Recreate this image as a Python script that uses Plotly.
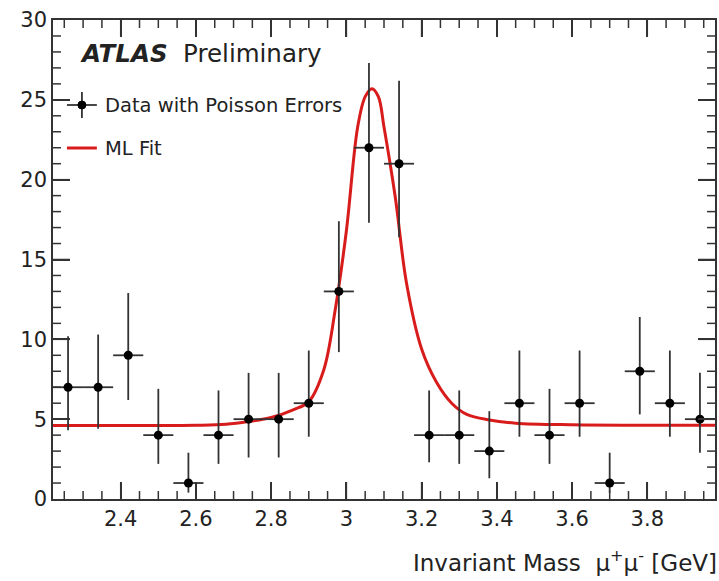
import plotly.graph_objects as go

# ---- data ----
mass = [2.26, 2.34, 2.42, 2.50, 2.58, 2.66, 2.74, 2.82, 2.90, 2.98, 3.06,
        3.14, 3.22, 3.30, 3.38, 3.46, 3.54, 3.62, 3.70, 3.78, 3.86, 3.94]
counts = [7, 7, 9, 4, 1, 4, 5, 5, 6, 13, 22, 21, 4, 4, 3, 6, 4, 6, 1, 8, 6, 5]
err_up = [3.2, 3.3, 3.9, 2.9, 1.9, 2.8, 2.9, 2.9, 3.3, 4.4, 5.3,
          5.2, 2.8, 2.8, 2.5, 3.3, 2.9, 3.3, 1.9, 3.4, 3.3, 2.9]
err_lo = [2.7, 2.6, 2.8, 1.8, 0.6, 1.8, 2.4, 2.4, 2.1, 3.8, 4.7,
          4.6, 1.7, 1.8, 1.7, 2.1, 1.8, 2.1, 0.6, 2.7, 2.1, 2.1]
bin_half = [0.04] * len(mass)

fit_x = [2.22, 2.40, 2.60, 2.68, 2.74, 2.80, 2.86, 2.90, 2.94, 2.97, 3.00,
         3.03, 3.05, 3.068, 3.085, 3.10, 3.13, 3.16, 3.20, 3.24, 3.28,
         3.32, 3.38, 3.45, 3.60, 3.80, 3.98]
fit_y = [4.6, 4.6, 4.62, 4.68, 4.85, 5.1, 5.6, 6.1, 8.1, 11.8, 16.8,
         23.3, 25.2, 25.7, 25.2, 23.3, 18.9, 13.5, 9.4, 7.3, 6.0,
         5.3, 4.95, 4.75, 4.65, 4.62, 4.62]

x_range = [2.22, 3.98]
y_range = [0, 30]
x_major_ticks = [2.4, 2.6, 2.8, 3.0, 3.2, 3.4, 3.6, 3.8]
x_minor_ticks = [2.25, 2.30, 2.35, 2.45, 2.50, 2.55, 2.65, 2.70, 2.75, 2.85,
                 2.90, 2.95, 3.05, 3.10, 3.15, 3.25, 3.30, 3.35, 3.45, 3.50,
                 3.55, 3.65, 3.70, 3.75, 3.85, 3.90, 3.95]
y_major_ticks = [5, 10, 15, 20, 25]
y_minor_ticks = [1, 2, 3, 4, 6, 7, 8, 9, 11, 12, 13, 14, 16, 17, 18, 19,
                 21, 22, 23, 24, 26, 27, 28, 29]

FONT = "DejaVu Sans"
RED = "#d81c1c"
INK = "#222222"
AX = "#333333"

PLOT_W, PLOT_H = 664, 479   # plot area in px (719x581 minus margins)
MAJ_LEN, MIN_LEN = 17, 8

fig = go.Figure()

fig.add_trace(go.Scatter(
    x=fit_x, y=fit_y, mode="lines",
    line=dict(color=RED, width=3, shape="spline", smoothing=1.0),
    showlegend=False, hoverinfo="skip"))

fig.add_trace(go.Scatter(
    x=mass, y=counts, mode="markers",
    marker=dict(color="black", size=9, symbol="circle"),
    error_y=dict(type="data", symmetric=False, array=err_up, arrayminus=err_lo,
                 color="#333333", thickness=1.8, width=0),
    error_x=dict(type="data", array=bin_half, color="#333333", thickness=1.8, width=0),
    showlegend=False))

fig.update_layout(
    width=719, height=581,
    margin=dict(l=53, r=2, t=20, b=82),
    plot_bgcolor="white",
    xaxis=dict(range=x_range, dtick=0.2,
               ticks="inside", ticklen=MAJ_LEN, tickwidth=2, tickcolor=AX,
               showline=True, mirror="ticks", linecolor=AX, linewidth=1.5,
               tickfont=dict(family=FONT, size=21, color=INK)),
    yaxis=dict(range=y_range, dtick=5,
               ticks="inside", ticklen=MAJ_LEN, tickwidth=2, tickcolor=AX,
               showline=True, mirror="ticks", linecolor=AX, linewidth=1.5,
               tickfont=dict(family=FONT, size=21, color=INK)),
    showlegend=False,
)

# explicit tick marks on all four sides (axis decorations)
tick_line = dict(color=AX, width=1.5)
for vals, ln in ((x_major_ticks, MAJ_LEN), (x_minor_ticks, MIN_LEN)):
    f = ln / PLOT_H
    for v in vals:
        fig.add_shape(type="line", xref="x", yref="y domain",
                      x0=v, x1=v, y0=0, y1=f, line=tick_line)
        fig.add_shape(type="line", xref="x", yref="y domain",
                      x0=v, x1=v, y0=1, y1=1 - f, line=tick_line)
for vals, ln in ((y_major_ticks, MAJ_LEN), (y_minor_ticks, MIN_LEN)):
    f = ln / PLOT_W
    for v in vals:
        fig.add_shape(type="line", xref="x domain", yref="y",
                      x0=0, x1=f, y0=v, y1=v, line=tick_line)
        fig.add_shape(type="line", xref="x domain", yref="y",
                      x0=1, x1=1 - f, y0=v, y1=v, line=tick_line)


def px_x(p):
    return (p - 53) / PLOT_W


def px_y(p):
    return (499 - p) / PLOT_H


# title text
fig.add_annotation(
    xref="paper", yref="paper", x=px_x(78), y=px_y(54),
    xanchor="left", yanchor="middle", showarrow=False,
    text="<b><i>ATLAS</i></b>  Preliminary",
    font=dict(family=FONT, size=24.5, color=INK))

# legend (manual)
fig.add_shape(type="line", xref="paper", yref="paper",
              x0=px_x(67), x1=px_x(97), y0=px_y(105), y1=px_y(105),
              line=dict(color="#333333", width=1.8))
fig.add_shape(type="line", xref="paper", yref="paper",
              x0=px_x(82), x1=px_x(82), y0=px_y(92), y1=px_y(118),
              line=dict(color="#333333", width=1.8))
fig.add_shape(type="circle", xref="paper", yref="paper",
              x0=px_x(78), x1=px_x(86), y0=px_y(101), y1=px_y(109),
              fillcolor="black", line=dict(color="black", width=1))
fig.add_annotation(xref="paper", yref="paper", x=px_x(103), y=px_y(105),
                   xanchor="left", yanchor="middle", showarrow=False,
                   text="Data with Poisson Errors",
                   font=dict(family=FONT, size=19.5, color=INK))
fig.add_shape(type="line", xref="paper", yref="paper",
              x0=px_x(67), x1=px_x(97), y0=px_y(148), y1=px_y(148),
              line=dict(color=RED, width=3))
fig.add_annotation(xref="paper", yref="paper", x=px_x(103), y=px_y(148),
                   xanchor="left", yanchor="middle", showarrow=False,
                   text="ML Fit",
                   font=dict(family=FONT, size=19.5, color=INK))

# x-axis title (right aligned)
fig.add_annotation(xref="paper", yref="paper", x=1.0, y=px_y(561), xshift=4,
                   xanchor="right", yanchor="middle", showarrow=False,
                   text="Invariant Mass  \u03bc<sup>+</sup>\u03bc<sup>-</sup> [GeV]",
                   font=dict(family=FONT, size=23, color=INK))

fig.write_html("out.html")
